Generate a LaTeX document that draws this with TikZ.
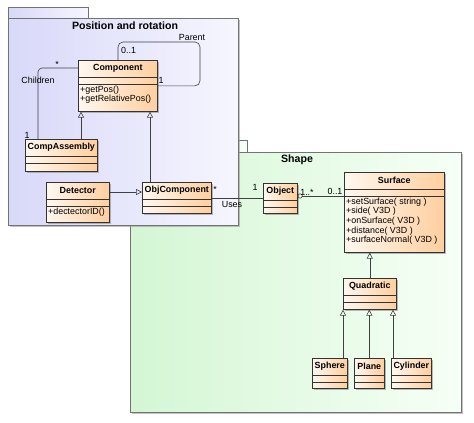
\documentclass[tikz,border=0pt]{standalone}
\usepackage{fontspec}
\setmainfont{Liberation Sans}
\usetikzlibrary{arrows.meta}
\usetikzlibrary{shadows}

\definecolor{pkgblue}{RGB}{216,216,249}
\definecolor{pkgbluelight}{RGB}{246,246,255}
\definecolor{pkggreen}{RGB}{212,246,212}
\definecolor{pkggreenlight}{RGB}{246,255,246}

\tikzset{
  pkgbox/.style={draw=black!55, line width=0.7pt},
  pkgtitle/.style={font=\bfseries\fontsize{10.6}{12}\selectfont, inner sep=0pt},
  classbox/.style={draw=black!80, line width=0.6pt, anchor=north west, inner sep=0pt,
    left color=orange!6, right color=orange!38,
    drop shadow={shadow xshift=2pt, shadow yshift=-2pt, fill=black!45, opacity=0.6},
    path picture={
      \draw[black!80, line width=0.6pt]
        ([yshift=-17pt]path picture bounding box.north west) -- ([yshift=-17pt]path picture bounding box.north east)
        ([yshift=-24pt]path picture bounding box.north west) -- ([yshift=-24pt]path picture bounding box.north east);
    }},
  classname/.style={font=\bfseries\fontsize{8.9}{10}\selectfont, inner sep=0pt},
  ops/.style={anchor=north west, align=left, inner xsep=2pt, inner ysep=1.5pt,
    font=\fontsize{8.9}{9.7}\selectfont},
  lbl/.style={font=\fontsize{8.9}{10}\selectfont, inner sep=0pt},
  conn/.style={draw=black!75, line width=0.6pt},
  gen/.style={conn, -{Triangle[open, length=6pt, width=6pt]}},
}

\begin{document}
\begin{tikzpicture}[x=1pt, y=-1pt]
    \useasboundingbox (0,0) rectangle (474,423);

    % packages
    \draw[pkgbox, left color=pkggreen, right color=pkggreenlight] (130,140) rectangle (247,152);
    \draw[pkgbox, left color=pkggreen, right color=pkggreenlight,
          drop shadow={shadow xshift=2pt, shadow yshift=-2pt, fill=black!40, opacity=0.6}] (130,152) rectangle (461,412);
    \node[pkgtitle] (shapetitle) at (297,160) {Shape};

    \draw[pkgbox, left color=pkgblue, right color=pkgbluelight] (8,7) rectangle (88,18);
    \draw[pkgbox, left color=pkgblue, right color=pkgbluelight,
          drop shadow={shadow xshift=2pt, shadow yshift=-2pt, fill=black!40, opacity=0.6}] (8,18) rectangle (238,225);
    \node[pkgtitle] (postitle) at (125,26) {Position and rotation};

    % classes
    \node[classbox, minimum width=79pt, minimum height=51pt] (comp) at (78,60) {};
    \node[classname] (compname) at ([yshift=-8.5pt]comp.north) {Component};
    \node[ops] (compops) at ([yshift=-24pt]comp.north west) {+getPos()\\+getRelativePos()};

    \node[classbox, minimum width=72pt, minimum height=32pt] (casm) at (25,139) {};
    \node[classname] (casmname) at ([yshift=-8.5pt]casm.north) {CompAssembly};

    \node[classbox, minimum width=63pt, minimum height=40pt] (det) at (46,182) {};
    \node[classname] (detname) at ([yshift=-8.5pt]det.north) {Detector};
    \node[ops] (detops) at ([yshift=-24pt]det.north west) {+dectectorID()};

    \node[classbox, minimum width=69pt, minimum height=31pt] (objc) at (142,182) {};
    \node[classname] (objcname) at ([yshift=-8.5pt]objc.north) {ObjComponent};

    \node[classbox, minimum width=34pt, minimum height=30pt] (obj) at (263,183) {};
    \node[classname] (objname) at ([yshift=-8.5pt]obj.north) {Object};

    \node[classbox, minimum width=100pt, minimum height=80pt] (surf) at (344,172) {};
    \node[classname] (surfname) at ([yshift=-8.5pt]surf.north) {Surface};
    \node[ops] (surfops) at ([yshift=-24pt]surf.north west)
        {+setSurface( string )\\+side( V3D )\\+onSurface( V3D )\\+distance( V3D )\\+surfaceNormal( V3D )};

    \node[classbox, minimum width=53pt, minimum height=31pt] (quad) at (343,278) {};
    \node[classname] (quadname) at ([yshift=-8.5pt]quad.north) {Quadratic};

    \foreach \n/\x/\w/\t in {sph/312/35/Sphere, pla/354/30/Plane, cyl/391/40/Cylinder} {
        \node[classbox, minimum width=\w pt, minimum height=30pt] (\n) at (\x,358) {};
        \node[classname] (\n name) at ([yshift=-8.5pt]\n.north) {\t};
    }

    % connectors
    \coordinate (parentbend) at (200,42);
    \draw[conn, rounded corners=5pt] ([xshift=40pt]comp.north west) |- (parentbend) |- (comp.east);
    \draw[conn, rounded corners=4pt] ([yshift=-8pt]comp.north west) -| ([xshift=13pt]casm.north west);

    \coordinate (casmtop) at ([xshift=56pt]casm.north west);
    \draw[gen] (casmtop) -- (casmtop |- comp.south);
    \coordinate (objctop) at ([xshift=8pt]objc.north west);
    \draw[gen] (objctop) -- (objctop |- comp.south);
    \coordinate (detright) at ([yshift=-10pt]det.north east);
    \draw[gen] (detright) -- (detright -| objc.west);

    \draw[conn] (objc.east) -- (objc.east -| obj.west);
    \coordinate (objright) at ([yshift=-13pt]obj.north east);
    \draw[conn, {Circle[open, length=5pt]}-] (objright) -- (objright -| surf.west);

    \draw[gen] (quad.north) -- (quad.north |- surf.south);
    \coordinate (sphtop) at ([xshift=31pt]sph.north west);
    \draw[gen] (sphtop) -- (sphtop |- quad.south);
    \draw[gen] (pla.north) -- (pla.north |- quad.south);
    \coordinate (cyltop) at ([xshift=2pt]cyl.north west);
    \draw[gen] (cyltop) -- (cyltop |- quad.south);

    % labels
    \node[lbl, anchor=west] (parentmult) at (121,50) {0..1};
    \node[lbl] (parentrole) at (192,37) {Parent};
    \node[lbl] (parentone) at (161,80) {1};
    \node[lbl] (childmult) at (57,64) {*};
    \node[lbl] (childrole) at (38,80) {Children};
    \node[lbl] (childone) at (27,135) {1};
    \node[lbl] (usesmany) at (215,189) {*};
    \node[lbl] (usesrole) at (232,204) {Uses};
    \node[lbl] (usesone) at (255,187) {1};
    \node[lbl] (objmult) at (307,192) {1..*};
    \node[lbl] (surfmult) at (335,191) {0..1};
\end{tikzpicture}
\end{document}
